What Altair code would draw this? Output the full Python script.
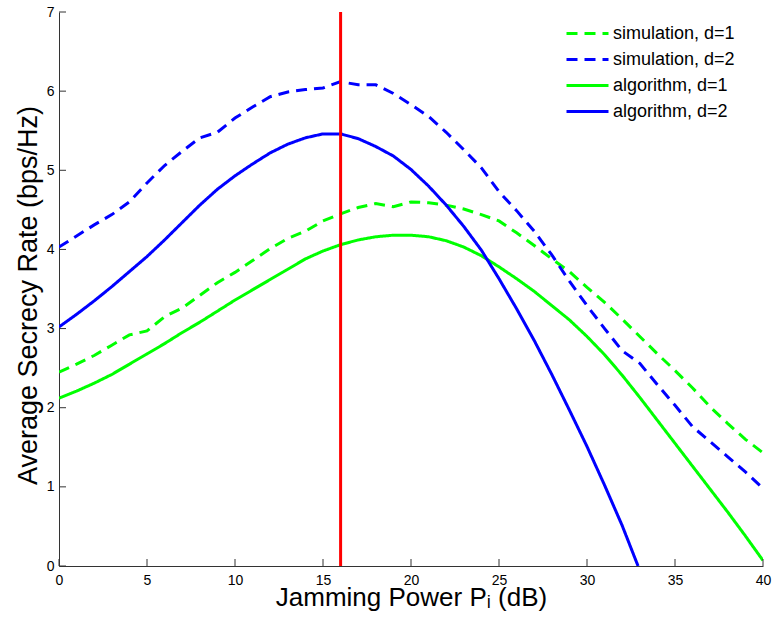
import altair as alt
import pandas as pd

# ---------------- data ----------------
x_sim = list(range(0, 41))
sim_d1 = [2.45, 2.55, 2.66, 2.79, 2.92, 2.97, 3.15, 3.26, 3.42, 3.58,
          3.71, 3.86, 4.01, 4.14, 4.23, 4.36, 4.45, 4.53, 4.58, 4.54,
          4.60, 4.59, 4.56, 4.51, 4.44, 4.36, 4.21, 4.05, 3.88, 3.72,
          3.52, 3.33, 3.12, 2.90, 2.68, 2.47, 2.25, 2.01, 1.80, 1.60, 1.43]
sim_d2 = [4.03, 4.17, 4.31, 4.44, 4.60, 4.84, 5.06, 5.24, 5.41, 5.48,
          5.66, 5.80, 5.93, 5.99, 6.02, 6.04, 6.12, 6.08, 6.08, 5.97,
          5.83, 5.68, 5.48, 5.26, 5.03, 4.73, 4.49, 4.23, 3.93, 3.60,
          3.29, 3.00, 2.72, 2.56, 2.29, 2.03, 1.76, 1.57, 1.38, 1.19, 0.98]
x_alg1 = list(range(0, 41))
alg_d1 = [2.12, 2.21, 2.31, 2.42, 2.55, 2.68, 2.81, 2.95, 3.08, 3.22,
          3.36, 3.49, 3.62, 3.75, 3.88, 3.98, 4.06, 4.12, 4.16, 4.18,
          4.18, 4.16, 4.11, 4.03, 3.92, 3.78, 3.63, 3.47, 3.29, 3.11,
          2.90, 2.67, 2.41, 2.13, 1.84, 1.55, 1.26, 0.97, 0.68, 0.38, 0.07]
x_alg2 = list(range(0, 33)) + [32.9]
alg_d2 = [3.02, 3.18, 3.35, 3.53, 3.72, 3.91, 4.12, 4.34, 4.56, 4.76,
          4.93, 5.08, 5.22, 5.33, 5.41, 5.46, 5.46, 5.40, 5.30, 5.18,
          5.01, 4.80, 4.56, 4.29, 3.99, 3.63, 3.25, 2.85, 2.42, 1.97,
          1.51, 1.02, 0.51, 0.0]

series_names = ["simulation, d=1", "simulation, d=2", "algorithm, d=1", "algorithm, d=2"]
series_colors = ["#00ff00", "#0000ff", "#00ff00", "#0000ff"]
series_dash = [[11, 7], [11, 7], [1, 0], [1, 0]]

x_ticks = [0, 5, 10, 15, 20, 25, 30, 35, 40]
y_ticks = [0, 1, 2, 3, 4, 5, 6, 7]
optimal_power = [16]

# ---------------- build table ----------------
rows = []
for name, xs, ys in [(series_names[0], x_sim, sim_d1),
                     (series_names[1], x_sim, sim_d2),
                     (series_names[2], x_alg1, alg_d1),
                     (series_names[3], x_alg2, alg_d2)]:
    for xv, yv in zip(xs, ys):
        rows.append({"series": name, "x": xv, "y": yv})
df = pd.DataFrame(rows)

FONT = "Liberation Sans"
AXIS_COLOR = "#333333"
W, H = 704, 554

xscale = alt.Scale(domain=[0, 40], nice=False, zero=False)
yscale = alt.Scale(domain=[0, 7], nice=False, zero=False)

xaxis = alt.Axis(values=x_ticks, format="d", title="Jamming Power Pᵢ (dB)", ticks=False, tickSize=0,
                 grid=False, labelFontSize=14, labelFont=FONT, labelColor="#000000",
                 labelPadding=7, domainColor=AXIS_COLOR, domainWidth=1,
                 titleFont=FONT, titleFontSize=26, titleFontWeight="normal",
                 titleColor="#000000", titleY=39, titleBaseline="alphabetic",
                 labelFlush=False, labelOverlap=False)
yaxis = alt.Axis(values=y_ticks, format="d", title="Average Secrecy Rate (bps/Hz)", ticks=False, tickSize=0,
                 grid=False, labelFontSize=14, labelFont=FONT, labelColor="#000000",
                 labelPadding=5, domainColor=AXIS_COLOR, domainWidth=1,
                 titleFont=FONT, titleFontSize=27, titleFontWeight="normal",
                 titleColor="#000000", titleX=-23, titleY=283, titleBaseline="alphabetic",
                 titleAlign="center", labelFlush=False, labelOverlap=False)

legend = alt.Legend(title=None, orient="none", legendX=517, legendY=10,
                    symbolType="M-2.1,0H2.1", symbolSize=400, symbolStrokeWidth=3,
                    labelFont=FONT, labelFontSize=18, labelColor="#000000",
                    labelOffset=14, rowPadding=5, padding=0)

lines = alt.Chart(df).mark_line(strokeWidth=3, clip=True).encode(
    x=alt.X("x:Q", scale=xscale, axis=xaxis),
    y=alt.Y("y:Q", scale=yscale, axis=yaxis),
    color=alt.Color("series:N", scale=alt.Scale(domain=series_names, range=series_colors),
                    legend=legend),
    strokeDash=alt.StrokeDash("series:N", scale=alt.Scale(domain=series_names, range=series_dash),
                              legend=legend),
)

vline = alt.Chart(pd.DataFrame({"x": optimal_power})).mark_rule(
    color="#ff0000", strokeWidth=3).encode(x=alt.X("x:Q", scale=xscale))

ytick_marks = alt.Chart(pd.DataFrame({"y": y_ticks})).mark_rule(
    color=AXIS_COLOR, strokeWidth=1).encode(
    y=alt.Y("y:Q", scale=yscale), x=alt.value(0), x2=alt.value(7))

xtick_marks = alt.Chart(pd.DataFrame({"x": x_ticks})).mark_rule(
    color=AXIS_COLOR, strokeWidth=1).encode(
    x=alt.X("x:Q", scale=xscale), y=alt.value(H), y2=alt.value(H - 7))

chart = alt.layer(lines, xtick_marks, ytick_marks, vline).properties(
    width=W, height=H,
    autosize=alt.AutoSizeParams(type="none"),
    padding={"left": 59, "top": 12, "right": 10, "bottom": 55},
    background="white",
).configure_view(stroke=None)

chart.save("out.html", embed_options={"renderer": "svg", "actions": False})
